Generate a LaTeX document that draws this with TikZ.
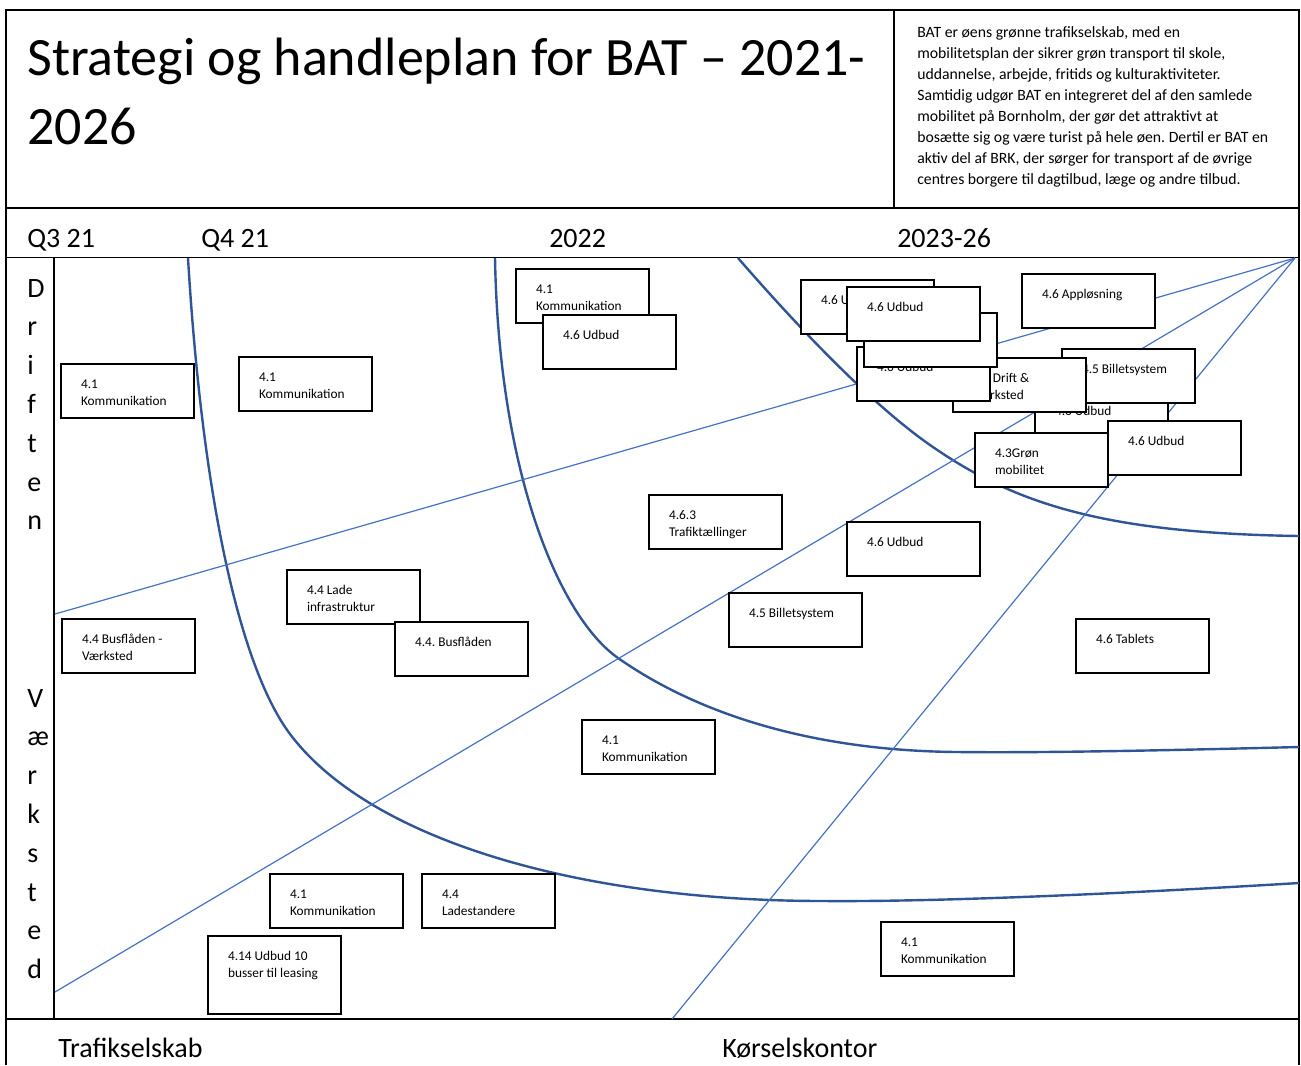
\documentclass[tikz,border=0pt]{standalone}
\usepackage{fontspec}
\setmainfont{Carlito}
\frenchspacing
\definecolor{curveblue}{HTML}{2F5597}
\definecolor{rayblue}{HTML}{4472C4}

\begin{document}
\begin{tikzpicture}[x=0.75pt, y=-0.75pt,
		tbox/.style={draw, fill=white, line width=1.5pt, anchor=north west, outer sep=0pt,
			inner xsep=15pt, inner ysep=0pt, text width=69.75pt, align=flush left,
			text height=18pt, text depth=22.5pt, font=\fontsize{10pt}{13.1pt}\selectfont},
		head/.style={anchor=base west, inner sep=0pt, font=\fontsize{21pt}{29.1pt}\selectfont},
		curve/.style={curveblue, line width=1.8pt},
		ray/.style={rayblue, line width=0.9pt}]
			\useasboundingbox (0,0) rectangle (1301,1065);
			
			% frame
			\draw[line width=1.5pt] (6,1065) -- (6,10) -- (1299,10) -- (1299,1065);
			\draw[line width=1.5pt] (894,10) -- (894,208);		% title | intro
			\draw[line width=2.2pt] (6,208) -- (1299,208);
			\draw[line width=1.1pt] (6,257.5) -- (1299,257.5);	% below time row
			\draw[line width=1.1pt] (54,258) -- (54,1019);		% left column
			\draw[line width=2.2pt] (6,1019) -- (1299,1019);
			
			% drawing curves
			\draw[curve] (188,258) .. controls (203,508) and (242,670) .. (290,734)
				.. controls (368,838) and (574,901) .. (824,901)
				.. controls (950,902) and (1150,892) .. (1299,883);
			\draw[curve] (495,258) .. controls (499,478) and (561,618) .. (618,658)
				.. controls (708,721) and (828,751) .. (958,752)
				.. controls (1050,753) and (1180,750) .. (1299,747);
			\draw[curve] (738,258) .. controls (798,327) and (870,403) .. (930,445)
				.. controls (1012,502) and (1099,533) .. (1299,536);
			
			% drawing rays to the corner
			\coordinate (fan) at (1295,258);
			\draw[ray] (55,614) -- (fan);
			\draw[ray] (55,992) -- (fan);
			\draw[ray] (672,1019) -- (fan);
			
			% boxes, back to front
			\foreach \nm/\x/\y/\txt in {
				k1/61/364/{4.1\\Kommunikation},
				k2/239/357/{4.1\\Kommunikation},
				k3/516/269/{4.1\\Kommunikation},
				u1/543/315/{4.6 Udbud},
				ua/801/280/{4.6 Udbud},
				ug/1035/391/{4.6 Udbud},
				bs1/1062/349/{4.5 Billetsystem},
				dv/953/358/{4.4 Drift \&\\Værksted},
				ud/857/347/{4.6 Udbud},
				uc/864/313/{},
				ub/847/287/{4.6 Udbud},
				gm/975/433/{4.3Grøn\\mobilitet},
				ui/1108/421/{4.6 Udbud},
				ap/1022/274/{4.6 Appløsning},
				tr/649/495/{4.6.3\\Trafiktællinger},
				u7/847/522/{4.6 Udbud},
				lade/287/570/{4.4 Lade\\infrastruktur},
				bus/395/622/{4.4. Busflåden},
				busv/62/619/{4.4 Busflåden -\\Værksted},
				bs2/729/593/{4.5 Billetsystem},
				tab/1076/619/{4.6 Tablets},
				k4/582/720/{4.1\\Kommunikation},
				k5/270/874/{4.1\\Kommunikation},
				ls/422/874/{4.4\\Ladestandere},
				k6/881/922/{4.1\\Kommunikation}}{
				\node[tbox] (\nm) at (\x,\y) {\txt};
			}
			\node[tbox, text depth=40.5pt] (lease) at (208,936) {4.14 Udbud 10\\busser til leasing};
			
			% texts
			\node[anchor=base west, inner sep=0pt, text width=650pt, align=flush left,
				font=\fontsize{40.5pt}{52pt}\selectfont] (title) at (27,75) {Strategi og handleplan for BAT – 2021-\\2026};
			\node[anchor=base west, inner sep=0pt, text width=285pt, align=flush left,
				font=\fontsize{11.8pt}{15.75pt}\selectfont] (intro) at (917,37) {BAT er øens grønne trafikselskab, med en\\
				mobilitetsplan der sikrer grøn transport til skole,\\
				uddannelse, arbejde, fritids og kulturaktiviteter.\\
				Samtidig udgør BAT en integreret del af den samlede\\
				mobilitet på Bornholm, der gør det attraktivt at\\
				bosætte sig og være turist på hele øen. Dertil er BAT en\\
				aktiv del af BRK, der sørger for transport af de øvrige\\
				centres borgere til dagtilbud, læge og andre tilbud.};
			
			\node[head] (q3) at (27,247) {Q3 21};
			\node[head] (q4) at (201,247) {Q4 21};
			\node[head] (y22) at (549,247) {2022};
			\node[head] (y23) at (897,247) {2023-26};
			
			\node[head, text width=30pt, align=flush left] (driften) at (27,297) {D\\r\\i\\f\\t\\e\\n};
			\node[head, text width=30pt, align=flush left] (vaerksted) at (27,707) {V\\æ\\r\\k\\s\\t\\e\\d};
			
			\node[head] (trafik) at (58,1057) {Trafikselskab};
			\node[head] (koersel) at (722,1057) {Kørselskontor};
		\end{tikzpicture}
\end{document}
